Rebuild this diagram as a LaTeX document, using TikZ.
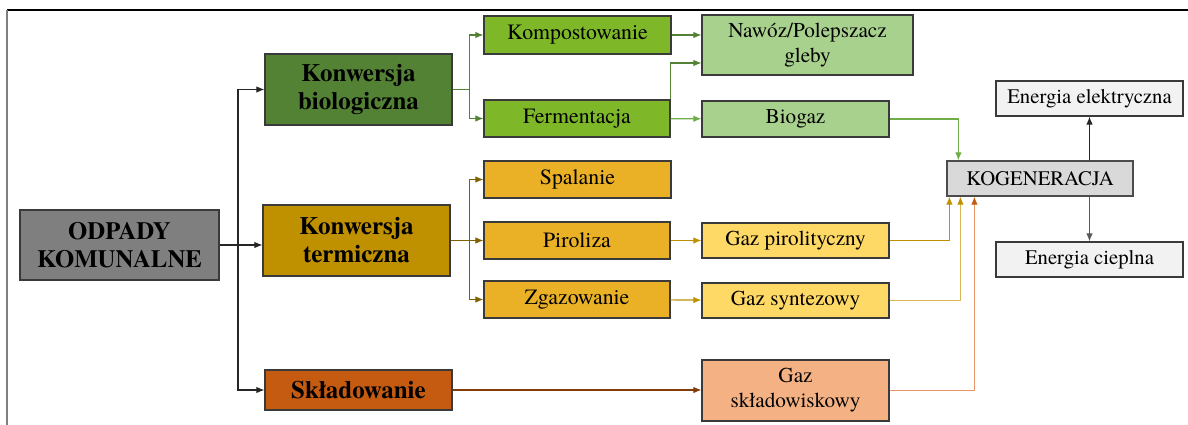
\documentclass[tikz,border=0pt]{standalone}
\usepackage{fontspec}
\setmainfont{texgyretermes}[Extension=.otf,UprightFont=*-regular,BoldFont=*-bold,ItalicFont=*-italic,BoldItalicFont=*-bolditalic]
\usetikzlibrary{arrows.meta,positioning,calc}
\definecolor{wastegray}{HTML}{7F7F7F}
\definecolor{edgegray}{HTML}{3A3A3A}
\definecolor{flowdark}{HTML}{262626}
\definecolor{biodark}{HTML}{548235}
\definecolor{biofill}{HTML}{7EB829}
\definecolor{bioproduct}{HTML}{A9D18E}
\definecolor{bioflowlight}{HTML}{70AD47}
\definecolor{thermdark}{HTML}{BF9000}
\definecolor{thermfill}{HTML}{EAB127}
\definecolor{thermproduct}{HTML}{FFD966}
\definecolor{thermflowdark}{HTML}{806000}
\definecolor{thermflowlight}{HTML}{D6B656}
\definecolor{landdark}{HTML}{C55A11}
\definecolor{landproduct}{HTML}{F4B183}
\definecolor{landflowdark}{HTML}{843C0C}
\definecolor{landflowlight}{HTML}{E8956A}
\definecolor{cogenfill}{HTML}{D9D9D9}
\definecolor{energyfill}{HTML}{F2F2F2}
\tikzset{
  box/.style={draw=edgegray,line width=1.2pt,align=center,inner sep=0pt,font=\fontsize{20.7}{24}\selectfont},
  procbox/.style={box,font=\fontsize{21.8}{25}\selectfont},
  prodbox/.style={box,font=\fontsize{21.2}{25}\selectfont},
  headbox/.style={box,font=\fontsize{25}{28}\selectfont\bfseries},
  flow/.style={-{Latex[length=8pt,width=6.5pt]},line width=1.1pt,draw=flowdark},
  bioflow/.style={flow,draw=biodark},
  thermflow/.style={flow,draw=thermflowdark},
  gasflow/.style={flow,draw=thermdark},
  landflow/.style={flow,draw=landflowdark}
}
\begin{document}
\begin{tikzpicture}[x=1pt,y=-1pt]
  \useasboundingbox (0,0) rectangle (1188,425);
  % frame
  \draw[line width=1.2pt] (7,10) -- (1188,10);
  \draw[wastegray,line width=1.6pt] (7,10) -- (7,425);

  % main branches
  \node[headbox,font=\fontsize{24.8}{28}\selectfont\bfseries,fill=wastegray,minimum width=199pt,minimum height=70pt] (odpady) at (119.5,245) {ODPADY\\KOMUNALNE};
  \node[headbox,fill=biodark,minimum width=187pt,minimum height=71pt] (konbio) at (358.5,89.5) {Konwersja\\biologiczna};
  \node[headbox,fill=thermdark,minimum width=187pt,minimum height=71pt] (konterm) at (356.5,240.5) {Konwersja\\termiczna};
  \node[headbox,fill=landdark,minimum width=187pt,minimum height=40pt] (sklad) at (358.5,390) {Składowanie};

  % processes
  \node[procbox,fill=biofill,minimum width=187pt,minimum height=38pt] (kompost) at (577.5,35) {Kompostowanie};
  \node[procbox,fill=biofill,minimum width=186pt,minimum height=37pt] (ferment) at (577,118.5) {Fermentacja};
  \node[procbox,fill=thermfill,minimum width=187pt,minimum height=37pt] (spalanie) at (577.5,179.5) {Spalanie};
  \node[procbox,fill=thermfill,minimum width=186pt,minimum height=37pt] (piroliza) at (577,240.5) {Piroliza};
  \node[procbox,fill=thermfill,minimum width=186pt,minimum height=37pt] (zgazow) at (577,299.5) {Zgazowanie};

  % products
  \node[prodbox,fill=bioproduct,minimum width=211pt,minimum height=60pt] (nawoz) at (807.5,45) {Nawóz/Polepszacz\\gleby};
  \node[prodbox,fill=bioproduct,minimum width=187pt,minimum height=36pt] (biogaz) at (795.5,119) {Biogaz};
  \node[prodbox,fill=thermproduct,minimum width=187pt,minimum height=35pt] (gazpir) at (795.5,240.5) {Gaz pirolityczny};
  \node[prodbox,fill=thermproduct,minimum width=187pt,minimum height=35pt] (gazsyn) at (795.5,300.5) {Gaz syntezowy};
  \node[prodbox,fill=landproduct,minimum width=187pt,minimum height=61pt] (gazsklad) at (795.5,390.5) {Gaz\\składowiskowy};

  % cogeneration
  \node[box,fill=cogenfill,draw=wastegray!60!black,minimum width=186pt,minimum height=35pt] (kogen) at (1040,178.5) {KOGENERACJA};
  \node[box,fill=energyfill,minimum width=187pt,minimum height=35pt] (eelek) at (1089.5,98.5) {Energia elektryczna};
  \node[box,fill=energyfill,minimum width=187pt,minimum height=35pt] (ecie) at (1089.5,259.5) {Energia cieplna};

  % connectors
  \coordinate (split) at (238,245);
  \draw[flow] (odpady.east) -- (odpady.east -| konterm.west);
  \draw[flow] (split) |- (konbio.west);
  \draw[flow] (split) |- (sklad.west);

  \draw[bioflow] (konbio.east) -- ++(17,0) |- (kompost.west);
  \draw[bioflow] (konbio.east) -- ++(17,0) |- (ferment.west);
  \draw[bioflow] (kompost.east) -- (kompost.east -| nawoz.west);
  \draw[bioflow] (ferment.north east) |- ($(nawoz.west)+(0,18)$);
  \draw[flow,draw=bioflowlight] (ferment) -- (biogaz);
  \draw[bioflow,draw=bioflowlight] (biogaz.east) -| ($(kogen.north west)+(12,0)$);

  \draw[thermflow] (konterm.east) -- ++(19,0) |- (spalanie.west);
  \draw[thermflow] (konterm.east) -- (piroliza.west);
  \draw[thermflow] (konterm.east) -- ++(19,0) |- (zgazow.west);
  \draw[gasflow] (piroliza) -- (gazpir);
  \draw[gasflow] (zgazow) -- (gazsyn);
  \draw[gasflow] (gazpir.east) -| ($(kogen.south west)+(3,0)$);
  \draw[gasflow,draw=thermflowlight,-{Latex[length=8pt,width=6.5pt,color=thermdark]}] (gazsyn.east) -| ($(kogen.south west)+(14,0)$);

  \draw[landflow] (sklad.east) -- (sklad.east -| gazsklad.west);
  \draw[landflow,draw=landflowlight,-{Latex[length=8pt,width=6.5pt,color=landdark]}] (gazsklad.east) -| ($(kogen.south west)+(28,0)$);

  \draw[flow] (kogen.north -| eelek.south) -- (eelek.south);
  \draw[flow,draw=wastegray!70!black] (kogen.south -| ecie.north) -- (ecie.north);
\end{tikzpicture}
\end{document}
